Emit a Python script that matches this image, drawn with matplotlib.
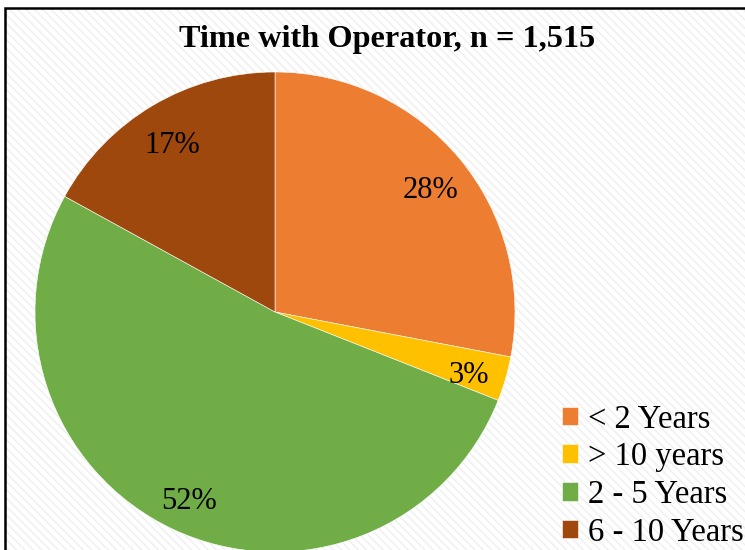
import matplotlib.pyplot as plt
from matplotlib.patches import Rectangle

labels = ["< 2 Years", "> 10 years", "2 - 5 Years", "6 - 10 Years"]
shares = [28, 3, 52, 17]
colors = ["#ED7D31", "#FFC000", "#70AD47", "#9E480E"]
title = "Time with Operator, n = 1,515"

plt.rcParams['font.family'] = ['Liberation Serif', 'DejaVu Serif']
plt.rcParams['hatch.color'] = "#efefef"

W, H = 745, 550
fig = plt.figure(figsize=(W / 100, H / 100), dpi=100)

# faint diagonal-stripe background with black frame (cut at right/bottom)
bg = Rectangle((5 / W, -0.05), 1.1, 1 - 8 / H + 0.05, transform=fig.transFigure,
               facecolor="white", edgecolor="#efefef", linewidth=0,
               hatch="\\\\\\\\", zorder=0)
fig.patches.append(bg)
frame = Rectangle((5 / W, -0.05), 1.1, 1 - 8 / H + 0.05, transform=fig.transFigure,
                  facecolor="none", edgecolor="black", linewidth=1.8, zorder=0.5)
fig.patches.append(frame)

cx, cy, r = 275, 312, 240
ax = fig.add_axes([(cx - r) / W, (H - cy - r) / H, 2 * r / W, 2 * r / H], zorder=3)
ax.patch.set_visible(False)
wedges, _, autotexts = ax.pie(shares, colors=colors, startangle=90, counterclock=False,
                              autopct="%d%%", pctdistance=0.84,
                              wedgeprops=dict(edgecolor="white", linewidth=0.4),
                              textprops=dict(fontsize=22, color="black"))
# nudge labels down a little, like the reference
for t in autotexts:
    x, y = t.get_position()
    t.set_position((x, y - 0.03))
ax.set_xlim(-1, 1)
ax.set_ylim(-1, 1)
ax.set_aspect("equal")

fig.text(387 / W, 1 - 40 / H, title, ha="center", va="center",
         fontsize=23.2, fontweight="bold")

fig.legend(wedges, labels, loc="upper left", bbox_to_anchor=(549 / W, 1 - 391 / H),
           frameon=False, fontsize=23.5, handlelength=0.5, handleheight=0.5,
           handletextpad=0.3, labelspacing=0.22, borderaxespad=0)

fig.savefig("out.png", dpi=100)
